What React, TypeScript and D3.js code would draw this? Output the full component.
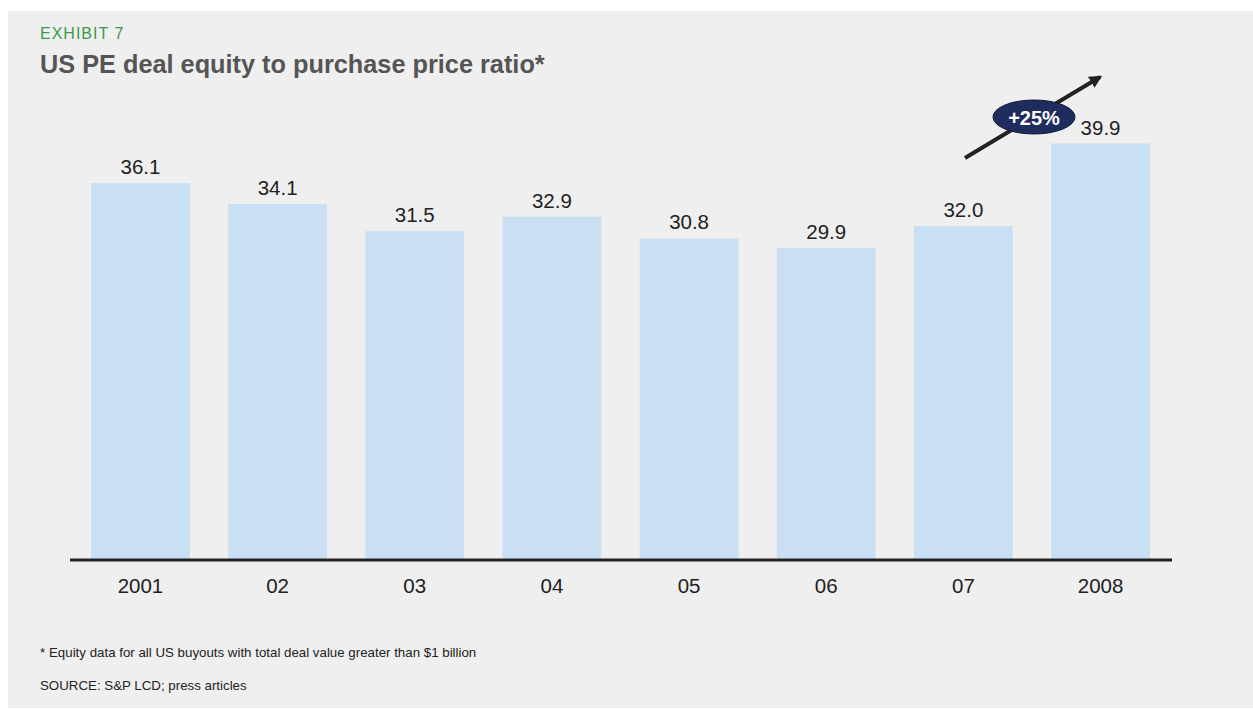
import React from "react";
import * as d3 from "d3";

const categories = ["2001", "02", "03", "04", "05", "06", "07", "2008"];
const values = [36.1, 34.1, 31.5, 32.9, 30.8, 29.9, 32.0, 39.9];
const valueLabels = ["36.1", "34.1", "31.5", "32.9", "30.8", "29.9", "32.0", "39.9"];
const exhibit = "EXHIBIT 7";
const title = "US PE deal equity to purchase price ratio*";
const footnoteMark = "*";
const footnote = "Equity data for all US buyouts with total deal value greater than $1 billion";
const source = "SOURCE: S&P LCD; press articles";
const badge = "+25%";

const W = 1253;
const H = 709;
const FONT = "'Liberation Sans', Arial, Helvetica, sans-serif";

export default function App() {
  const x = d3.scaleBand<string>().domain(categories).range([91, 1150]).paddingInner(0.279).paddingOuter(0);
  const y = d3.scaleLinear().domain([0, 39.9]).range([560, 143.5]);
  const baseY = y(0);

  return (
    <svg
      width={W}
      height={H}
      style={{ position: "absolute", left: 0, top: 0, display: "block" }}
      fontFamily={FONT}
    >
      <defs>
        <marker id="ah" viewBox="0 0 10 10" refX="8" refY="5" markerWidth="3.2" markerHeight="3.2" orient="auto">
          <path d="M0,0 L10,5 L0,10 z" fill="#222" />
        </marker>
      </defs>
      <rect x={0} y={0} width={W} height={H} fill="#ffffff" />
      <rect x={8} y={11} width={W - 8} height={697} fill="#efefef" />

      <text x={40} y={39} fontSize={16} fill="#3a9a4c" letterSpacing={1}>{exhibit}</text>
      <text x={40} y={73} fontSize={25.3} fontWeight="bold" fill="#555555">{title}</text>

      {categories.map((c, i) => (
        <g key={c}>
          <rect x={x(c)} y={y(values[i])} width={x.bandwidth()} height={baseY - y(values[i])} fill="#c9e0f4" />
          <text x={(x(c) as number) + x.bandwidth() / 2} y={y(values[i]) - 9} textAnchor="middle" fontSize={20.5} fill="#222">
            {valueLabels[i]}
          </text>
          <text x={(x(c) as number) + x.bandwidth() / 2} y={593} textAnchor="middle" fontSize={20.5} fill="#222">
            {c}
          </text>
        </g>
      ))}

      <line x1={70} x2={1172} y1={baseY} y2={baseY} stroke="#222" strokeWidth={3} />

      <line x1={965} y1={158} x2={1100} y2={77} stroke="#222" strokeWidth={4} markerEnd="url(#ah)" />
      <ellipse cx={1034} cy={117} rx={41} ry={17} fill="#1e2c5e" stroke="#111a3a" strokeWidth={1} />
      <text x={1034} y={124.5} textAnchor="middle" fontSize={20} fontWeight="bold" fill="#ffffff">{badge}</text>

      <text x={40} y={657} fontSize={13.3} fill="#222">
        <tspan>{footnoteMark}</tspan>
        <tspan x={49}>{footnote}</tspan>
      </text>
      <text x={40} y={690} fontSize={13.3} fill="#222">{source}</text>
    </svg>
  );
}
